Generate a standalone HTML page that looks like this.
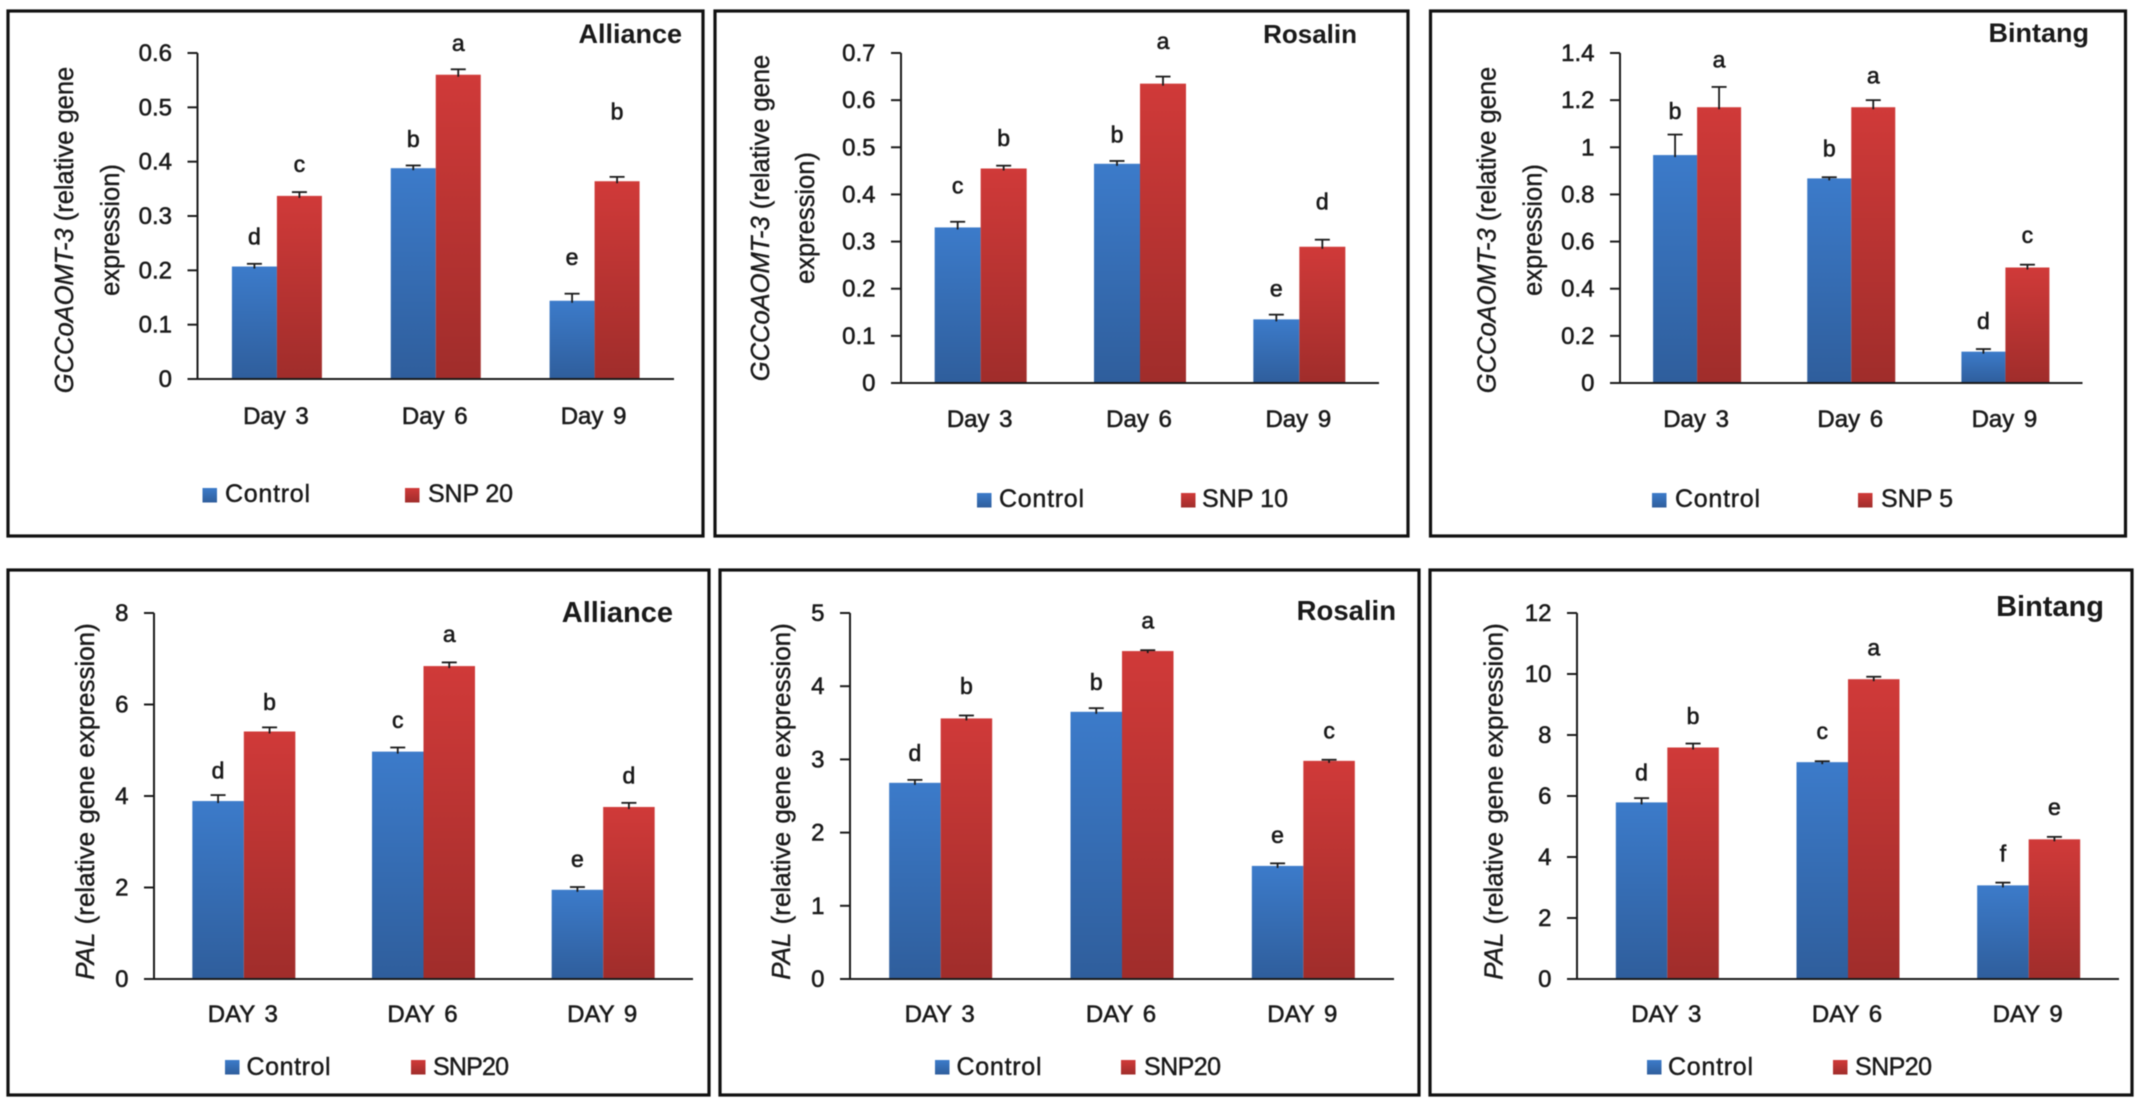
<!DOCTYPE html>
<html lang="en">
<head>
<meta charset="utf-8">
<title>Relative gene expression panels</title>
<style>
html,body{margin:0;padding:0;background:#fff;}
svg{display:block;filter:blur(.4px);}
text{font-family:"Liberation Sans",sans-serif;fill:#1a1a1a;}
.tick,.cat{font-size:24px;stroke:#1a1a1a;stroke-width:.55px;}
.cat{word-spacing:3px;}
.ytitle{font-size:25.5px;stroke:#1a1a1a;stroke-width:.4px;}
.ytitle2{font-size:26px;stroke:#1a1a1a;stroke-width:.4px;word-spacing:1px;}
.ptitle{font-weight:bold;}
.leg{font-size:25px;stroke:#1a1a1a;stroke-width:.45px;}
.letter{font-size:23px;stroke:#1a1a1a;stroke-width:.6px;text-anchor:middle;}
.frame{fill:#fff;stroke:#111;stroke-width:3.2px;}
</style>
</head>
<body>
<svg id="figure" width="2140" height="1104" viewBox="0 0 2140 1104" xmlns="http://www.w3.org/2000/svg">
<defs>
<linearGradient id="gBlue" x1="0" y1="0" x2="0" y2="1"><stop offset="0" stop-color="#3c7bca"/><stop offset="1" stop-color="#2f5e9c"/></linearGradient>
<linearGradient id="gRed" x1="0" y1="0" x2="0" y2="1"><stop offset="0" stop-color="#d03a39"/><stop offset="1" stop-color="#a02d2b"/></linearGradient>
</defs>
<rect width="2140" height="1104" fill="#fff"/>

<g id="p1">
<rect class="frame" x="8" y="11" width="695" height="525"/>
<text class="ptitle" x="682" y="43" font-size="27" text-anchor="end">Alliance</text>
<text class="ytitle" transform="translate(73,230) rotate(-90)" text-anchor="middle"><tspan font-style="italic">GCCoAOMT-3</tspan> (relative gene</text>
<text class="ytitle" transform="translate(119,230) rotate(-90)" text-anchor="middle">expression)</text>
<rect x="202.500" y="488" width="14.500" height="14.500" fill="url(#gBlue)"/>
<text class="leg" x="225" y="502" textLength="85">Control</text>
<rect x="405" y="488" width="14.500" height="14.500" fill="url(#gRed)"/>
<text class="leg" x="428" y="502" textLength="85">SNP 20</text>
</g>

<g id="p2">
<rect class="frame" x="715" y="11" width="693" height="525"/>
<text class="ptitle" x="1357" y="43" font-size="26" text-anchor="end">Rosalin</text>
<text class="ytitle" transform="translate(769,218) rotate(-90)" text-anchor="middle"><tspan font-style="italic">GCCoAOMT-3</tspan> (relative gene</text>
<text class="ytitle" transform="translate(814,218) rotate(-90)" text-anchor="middle">expression)</text>
<rect x="977" y="493" width="14.500" height="14.500" fill="url(#gBlue)"/>
<text class="leg" x="999" y="507" textLength="85">Control</text>
<rect x="1181" y="493" width="14.500" height="14.500" fill="url(#gRed)"/>
<text class="leg" x="1202" y="507" textLength="86">SNP 10</text>
</g>

<g id="p3">
<rect class="frame" x="1430.500" y="11" width="695" height="525"/>
<text class="ptitle" x="2089" y="42" font-size="27" text-anchor="end">Bintang</text>
<text class="ytitle" transform="translate(1495.500,230) rotate(-90)" text-anchor="middle"><tspan font-style="italic">GCCoAOMT-3</tspan> (relative gene</text>
<text class="ytitle" transform="translate(1541.500,230) rotate(-90)" text-anchor="middle">expression)</text>
<rect x="1652" y="493" width="14.500" height="14.500" fill="url(#gBlue)"/>
<text class="leg" x="1675" y="507" textLength="85">Control</text>
<rect x="1858" y="493" width="14.500" height="14.500" fill="url(#gRed)"/>
<text class="leg" x="1881" y="507" textLength="72">SNP 5</text>
</g>

<g id="p4">
<rect class="frame" x="8" y="570" width="701" height="525"/>
<text class="ptitle" x="673" y="622" font-size="29" text-anchor="end">Alliance</text>
<text class="ytitle2" transform="translate(94,801.500) rotate(-90)" text-anchor="middle"><tspan font-style="italic">PAL</tspan> (relative gene expression)</text>
<rect x="225" y="1060" width="14.500" height="14.500" fill="url(#gBlue)"/>
<text class="leg" x="246.500" y="1075" textLength="84">Control</text>
<rect x="411" y="1060" width="14.500" height="14.500" fill="url(#gRed)"/>
<text class="leg" x="433" y="1075" textLength="76">SNP20</text>
</g>

<g id="p5">
<rect class="frame" x="720" y="570" width="699" height="525"/>
<text class="ptitle" x="1396" y="620" font-size="27.500" text-anchor="end">Rosalin</text>
<text class="ytitle2" transform="translate(790,801.500) rotate(-90)" text-anchor="middle"><tspan font-style="italic">PAL</tspan> (relative gene expression)</text>
<rect x="935" y="1060" width="14.500" height="14.500" fill="url(#gBlue)"/>
<text class="leg" x="956.500" y="1075" textLength="85">Control</text>
<rect x="1121" y="1060" width="14.500" height="14.500" fill="url(#gRed)"/>
<text class="leg" x="1144" y="1075" textLength="77">SNP20</text>
</g>

<g id="p6">
<rect class="frame" x="1430" y="570" width="702" height="525"/>
<text class="ptitle" x="2104" y="616" font-size="29" text-anchor="end">Bintang</text>
<text class="ytitle2" transform="translate(1502.500,801.500) rotate(-90)" text-anchor="middle"><tspan font-style="italic">PAL</tspan> (relative gene expression)</text>
<rect x="1647" y="1060" width="14.500" height="14.500" fill="url(#gBlue)"/>
<text class="leg" x="1668" y="1075" textLength="85">Control</text>
<rect x="1833" y="1060" width="14.500" height="14.500" fill="url(#gRed)"/>
<text class="leg" x="1855" y="1075" textLength="77">SNP20</text>
</g>
</svg>

<script>
// Category labels
const dayLabels = ['Day 3', 'Day 6', 'Day 9'];
const dayLabelsUpper = ['DAY 3', 'DAY 6', 'DAY 9'];

// GCCoAOMT-3 / Alliance
const gccAllianceTicks = [0, 0.1, 0.2, 0.3, 0.4, 0.5, 0.6];
const gccAllianceControl = [0.207, 0.388, 0.144];
const gccAllianceSnp = [0.337, 0.56, 0.364];
const gccAllianceControlErr = [0.005, 0.005, 0.013];
const gccAllianceSnpErr = [0.007, 0.01, 0.008];
const gccAllianceControlLetters = ['d', 'b', 'e'];
const gccAllianceSnpLetters = ['c', 'a', 'b'];
const gccAllianceControlPad = [0.05, 0.049, 0.064];
const gccAllianceSnpPad = [0.048, 0.045, 0.12];

// GCCoAOMT-3 / Rosalin
const gccRosalinTicks = [0, 0.1, 0.2, 0.3, 0.4, 0.5, 0.6, 0.7];
const gccRosalinControl = [0.33, 0.465, 0.135];
const gccRosalinSnp = [0.455, 0.635, 0.289];
const gccRosalinControlErr = [0.012, 0.006, 0.01];
const gccRosalinSnpErr = [0.006, 0.015, 0.015];
const gccRosalinControlLetters = ['c', 'b', 'e'];
const gccRosalinSnpLetters = ['b', 'a', 'd'];
const gccRosalinControlPad = [0.073, 0.056, 0.051];
const gccRosalinSnpPad = [0.059, 0.071, 0.081];

// GCCoAOMT-3 / Bintang
const gccBintangTicks = [0, 0.2, 0.4, 0.6, 0.8, 1, 1.2, 1.4];
const gccBintangControl = [0.967, 0.868, 0.133];
const gccBintangSnp = [1.17, 1.17, 0.49];
const gccBintangControlErr = [0.087, 0.005, 0.011];
const gccBintangSnpErr = [0.086, 0.03, 0.012];
const gccBintangControlLetters = ['b', 'b', 'd'];
const gccBintangSnpLetters = ['a', 'a', 'c'];
const gccBintangControlPad = [0.099, 0.121, 0.12];
const gccBintangSnpPad = [0.109, 0.097, 0.118];

// PAL / Alliance
const palAllianceTicks = [0, 2, 4, 6, 8];
const palAllianceControl = [3.89, 4.97, 1.95];
const palAllianceSnp = [5.41, 6.84, 3.76];
const palAllianceControlErr = [0.13, 0.09, 0.06];
const palAllianceSnpErr = [0.09, 0.08, 0.09];
const palAllianceControlLetters = ['d', 'c', 'e'];
const palAllianceSnpLetters = ['b', 'a', 'd'];
const palAllianceControlPad = [0.54, 0.56, 0.57];
const palAllianceSnpPad = [0.56, 0.58, 0.6];

// PAL / Rosalin
const palRosalinTicks = [0, 1, 2, 3, 4, 5];
const palRosalinControl = [2.68, 3.65, 1.545];
const palRosalinSnp = [3.56, 4.48, 2.98];
const palRosalinControlErr = [0.04, 0.05, 0.035];
const palRosalinSnpErr = [0.04, 0.012, 0.015];
const palRosalinControlLetters = ['d', 'b', 'e'];
const palRosalinSnpLetters = ['b', 'a', 'c'];
const palRosalinControlPad = [0.37, 0.36, 0.36];
const palRosalinSnpPad = [0.4, 0.38, 0.37];

// PAL / Bintang
const palBintangTicks = [0, 2, 4, 6, 8, 10, 12];
const palBintangControl = [5.79, 7.11, 3.07];
const palBintangSnp = [7.59, 9.83, 4.58];
const palBintangControlErr = [0.14, 0.03, 0.09];
const palBintangSnpErr = [0.13, 0.08, 0.08];
const palBintangControlLetters = ['d', 'c', 'f'];
const palBintangSnpLetters = ['b', 'a', 'e'];
const palBintangControlPad = [0.84, 0.93, 0.96];
const palBintangSnpPad = [0.91, 0.89, 0.91];

const SVG_NS = 'http://www.w3.org/2000/svg';

function mk(parent, tag, attrs, content) {
  const el = document.createElementNS(SVG_NS, tag);
  for (const key in attrs) el.setAttribute(key, attrs[key]);
  if (content !== undefined) el.textContent = content;
  parent.appendChild(el);
  return el;
}

function drawBar(group, cx, value, err, letter, pad, scaleY, y0, barW, capW, fill, seriesName) {
  const top = scaleY(value);
  const bar = mk(group, 'rect', { x: cx - barW / 2, y: top, width: barW, height: y0 - top, fill: fill });
  
  

  const errTop = scaleY(value + err);
  const stem = mk(group, 'line', { x1: cx, x2: cx, y1: errTop, y2: top + 2, stroke: '#1a1a1a', 'stroke-width': 1.8 });
  
  
  const cap = mk(group, 'line', { x1: cx - capW / 2, x2: cx + capW / 2, y1: errTop, y2: errTop, stroke: '#1a1a1a', 'stroke-width': 1.8 });
  
  

  const drop = /[bdf]/.test(letter) ? 8 : 6;
  const label = mk(group, 'text', { class: 'letter', x: cx, y: scaleY(value + err + pad) + drop }, letter);
  
  
}

function drawChart(c) {
  const group = document.getElementById(c.id);
  const maxTick = c.ticks[c.ticks.length - 1];
  const scaleY = v => c.y0 + (c.yTop - c.y0) * (v / maxTick);
  const band = (c.axisRight - c.axisX) / c.categories.length;
  const scaleX = i => c.axisX + band * (i + 0.5);

  c.control.forEach((v, i) => {
    const cx = scaleX(i) - c.barW / 2;
    drawBar(group, cx, v, c.controlErr[i], c.controlLetters[i], c.controlPad[i], scaleY, c.y0, c.barW, c.capW, 'url(#gBlue)', 'control');
  });
  c.snp.forEach((v, i) => {
    const cx = scaleX(i) + c.barW / 2;
    drawBar(group, cx, v, c.snpErr[i], c.snpLetters[i], c.snpPad[i], scaleY, c.y0, c.barW, c.capW, 'url(#gRed)', 'snp');
  });

  const yAxis = mk(group, 'line', { x1: c.axisX, x2: c.axisX, y1: c.yTop, y2: c.y0, stroke: '#1a1a1a', 'stroke-width': 2 });
  
  
  const xAxis = mk(group, 'line', { x1: c.axisX - 10, x2: c.axisRight, y1: c.y0, y2: c.y0, stroke: '#1a1a1a', 'stroke-width': 2 });
  
  

  c.ticks.forEach(t => {
    const y = scaleY(t);
    const mark = mk(group, 'line', { x1: c.axisX - 10, x2: c.axisX, y1: y, y2: y, stroke: '#1a1a1a', 'stroke-width': 2 });
    
    
    const lab = mk(group, 'text', { class: 'tick', x: c.axisX - 25.5, y: y + 8, 'text-anchor': 'end' }, String(t));
    
    
  });

  c.categories.forEach((name, i) => {
    const lab = mk(group, 'text', { class: 'cat', x: scaleX(i) - 1, y: c.catY, 'text-anchor': 'middle' }, name);
    
    
  });
}

[
  { id: 'p1', axisX: 197.5, axisRight: 674, y0: 379, yTop: 53, barW: 45, capW: 15, catY: 424,
    categories: dayLabels, ticks: gccAllianceTicks, control: gccAllianceControl, snp: gccAllianceSnp,
    controlErr: gccAllianceControlErr, snpErr: gccAllianceSnpErr,
    controlLetters: gccAllianceControlLetters, snpLetters: gccAllianceSnpLetters,
    controlPad: gccAllianceControlPad, snpPad: gccAllianceSnpPad },
  { id: 'p2', axisX: 901, axisRight: 1379, y0: 383, yTop: 53, barW: 46, capW: 15, catY: 427,
    categories: dayLabels, ticks: gccRosalinTicks, control: gccRosalinControl, snp: gccRosalinSnp,
    controlErr: gccRosalinControlErr, snpErr: gccRosalinSnpErr,
    controlLetters: gccRosalinControlLetters, snpLetters: gccRosalinSnpLetters,
    controlPad: gccRosalinControlPad, snpPad: gccRosalinSnpPad },
  { id: 'p3', axisX: 1620, axisRight: 2082.5, y0: 383, yTop: 53, barW: 44, capW: 15, catY: 427,
    categories: dayLabels, ticks: gccBintangTicks, control: gccBintangControl, snp: gccBintangSnp,
    controlErr: gccBintangControlErr, snpErr: gccBintangSnpErr,
    controlLetters: gccBintangControlLetters, snpLetters: gccBintangSnpLetters,
    controlPad: gccBintangControlPad, snpPad: gccBintangSnpPad },
  { id: 'p4', axisX: 154, axisRight: 693, y0: 979, yTop: 613, barW: 51.5, capW: 15, catY: 1022,
    categories: dayLabelsUpper, ticks: palAllianceTicks, control: palAllianceControl, snp: palAllianceSnp,
    controlErr: palAllianceControlErr, snpErr: palAllianceSnpErr,
    controlLetters: palAllianceControlLetters, snpLetters: palAllianceSnpLetters,
    controlPad: palAllianceControlPad, snpPad: palAllianceSnpPad },
  { id: 'p5', axisX: 850, axisRight: 1394, y0: 979, yTop: 613, barW: 51.5, capW: 15, catY: 1022,
    categories: dayLabelsUpper, ticks: palRosalinTicks, control: palRosalinControl, snp: palRosalinSnp,
    controlErr: palRosalinControlErr, snpErr: palRosalinSnpErr,
    controlLetters: palRosalinControlLetters, snpLetters: palRosalinSnpLetters,
    controlPad: palRosalinControlPad, snpPad: palRosalinSnpPad },
  { id: 'p6', axisX: 1577, axisRight: 2119, y0: 979, yTop: 613, barW: 51.5, capW: 15, catY: 1022,
    categories: dayLabelsUpper, ticks: palBintangTicks, control: palBintangControl, snp: palBintangSnp,
    controlErr: palBintangControlErr, snpErr: palBintangSnpErr,
    controlLetters: palBintangControlLetters, snpLetters: palBintangSnpLetters,
    controlPad: palBintangControlPad, snpPad: palBintangSnpPad }
].forEach(drawChart);
</script>
</body>
</html>
